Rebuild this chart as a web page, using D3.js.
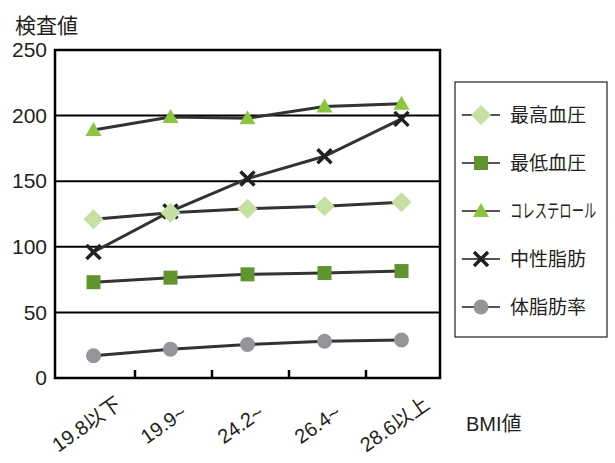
<!DOCTYPE html>
<html>
<head>
<meta charset="utf-8">
<script src="https://cdn.jsdelivr.net/npm/d3@7"></script>
<style>
  body { margin: 0; background: #fff; }
  text { font-family: "Liberation Sans", "Noto Sans CJK JP", sans-serif; fill: #231f20; }
</style>
</head>
<body>
<svg id="chart" width="615" height="463"></svg>
<script>
// categories (BMI)
var categories = ["19.8以下", "19.9~", "24.2~", "26.4~", "28.6以上"];
var yTicks = [0, 50, 100, 150, 200, 250];

// series values
var saikou = [121, 126, 129, 131, 134];
var saitei = [73, 76.5, 79, 80, 81.5];
var chol = [189, 199, 198, 207, 209];
var chusei = [96, 127, 152, 169, 197.5];
var taishibo = [17, 22, 25.5, 28, 29];

var seriesNames = ["最高血圧", "最低血圧", "コレステロール", "中性脂肪", "体脂肪率"];
var seriesValues = [saikou, saitei, chol, chusei, taishibo];
var markerTypes = ["diamond", "square", "triangle", "cross", "circle"];
var markerColors = ["#c5e0a0", "#5f942f", "#8cc63f", "#231f20", "#939598"];

var svg = d3.select("#chart");
var pLeft = 55, pRight = 440, pTop = 50, pBottom = 378;

var x = d3.scaleBand().domain(categories).range([pLeft, pRight]);
var y = d3.scaleLinear().domain([0, 250]).range([pBottom, pTop]);

// gridlines
svg.append("g").selectAll("line")
    .data(yTicks)
    .enter().append("line")
    .attr("x1", pLeft).attr("x2", pRight)
    .attr("y1", function (d) { return y(d); })
    .attr("y2", function (d) { return y(d); })
    .style("stroke", "#000")
    .style("stroke-width", 2);

// plot frame
svg.append("rect")
    .attr("x", pLeft).attr("y", pTop)
    .attr("width", pRight - pLeft).attr("height", pBottom - pTop)
    .style("fill", "none").style("stroke", "#000").style("stroke-width", 2.5);

// inner tick marks between categories
svg.append("g").selectAll("line")
    .data(categories.slice(1))
    .enter().append("line")
    .attr("x1", function (d) { return x(d) + 3; })
    .attr("x2", function (d) { return x(d) + 3; })
    .attr("y1", pBottom).attr("y2", pBottom - 8)
    .style("stroke", "#000").style("stroke-width", 2.5);

// y axis labels
var yAxis = d3.axisLeft(y).tickValues(yTicks).tickSize(0).tickPadding(8);
var ya = svg.append("g").attr("transform", "translate(" + pLeft + ",0)").call(yAxis);
ya.select(".domain").remove();
ya.selectAll("text").style("font-size", "21px").style("font-family", "Liberation Sans, sans-serif").attr("fill", "#231f20");

// x labels, rotated
svg.append("g").selectAll("text")
    .data(categories)
    .enter().append("text")
    .attr("text-anchor", "middle")
    .attr("transform", function (d) {
        return "translate(" + (x(d) + x.bandwidth() / 2 - 3) + ",430) rotate(-35)";
    })
    .style("font-size", "20px")
    .text(function (d) { return d; });

// titles
svg.append("text").attr("x", 15).attr("y", 33).style("font-size", "21px").text("検査値");
svg.append("text").attr("x", 466).attr("y", 431).style("font-size", "20px").text("BMI値");

function drawMarker(g, type, color) {
    if (type == "diamond") {
        g.append("path").attr("d", "M0,-10L10,0L0,10L-10,0Z").style("fill", color);
    } else if (type == "square") {
        g.append("rect").attr("x", -7).attr("y", -7).attr("width", 14).attr("height", 14).style("fill", color);
    } else if (type == "triangle") {
        g.append("path").attr("d", "M0,-8L8,6L-8,6Z").style("fill", color);
    } else if (type == "cross") {
        g.append("path").attr("d", "M-7,-7L7,7M-7,7L7,-7").style("stroke", color).style("stroke-width", 3.5).style("fill", "none");
    } else {
        g.append("circle").attr("r", 7.5).style("fill", color);
    }
}

var line = d3.line()
    .x(function (d, i) { return x(categories[i]) + x.bandwidth() / 2; })
    .y(function (d) { return y(d); });

seriesValues.forEach(function (vals, s) {
    svg.append("path")
        .attr("d", line(vals))
        .style("fill", "none")
        .style("stroke", "#333")
        .style("stroke-width", 3);
});

// markers: later series first so the diamonds sit on top
d3.range(seriesValues.length).reverse().forEach(function (s) {
    seriesValues[s].forEach(function (v, i) {
        var g = svg.append("g")
            .attr("transform", "translate(" + (x(categories[i]) + x.bandwidth() / 2) + "," + y(v) + ")");
        drawMarker(g, markerTypes[s], markerColors[s]);
    });
});

// legend
var lg = svg.append("g");
lg.append("rect")
    .attr("x", 455).attr("y", 82).attr("width", 152).attr("height", 255)
    .style("fill", "#fff").style("stroke", "#231f20").style("stroke-width", 1.2);

seriesNames.forEach(function (name, s) {
    var cy = 115 + s * 48;
    lg.append("line")
        .attr("x1", 462).attr("x2", 500).attr("y1", cy).attr("y2", cy)
        .style("stroke", "#555").style("stroke-width", 2);
    var g = lg.append("g").attr("transform", "translate(481," + cy + ")");
    drawMarker(g, markerTypes[s], markerColors[s]);
    var t = lg.append("text")
        .attr("transform", "translate(510," + (cy + 7) + ")" + (s == 2 ? " scale(0.65,1)" : ""))
        .style("font-size", "19px")
        .text(name);
});
</script>
</body>
</html>
